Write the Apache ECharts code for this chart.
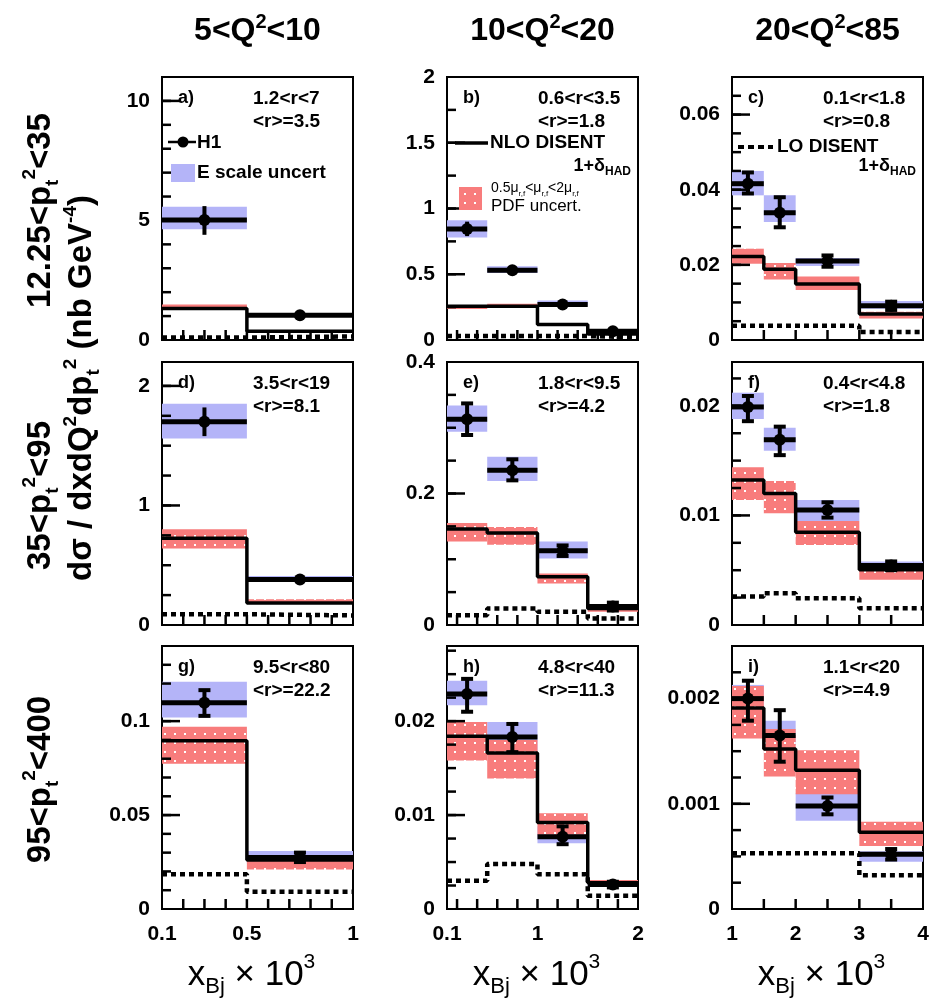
<!DOCTYPE html>
<html>
<head>
<meta charset="utf-8">
<script src="https://cdn.jsdelivr.net/npm/echarts@6/dist/echarts.min.js"></script>
<style>
html,body{margin:0;padding:0;background:#fff}
#main{width:938px;height:1003px}
</style>
</head>
<body>
<div id="main"></div>
<script>
// bin edges in x_Bj * 10^3, one set per Q2 column
var binsQ1 = [0.1, 0.5, 1];
var binsQ2 = [0.1, 0.5, 1.0, 1.5, 2.0];
var binsQ3 = [1, 1.5, 2, 3, 4];

var xRangeQ1 = [0.1, 1], xRangeQ2 = [0.1, 2], xRangeQ3 = [1, 4];
var xLabelsQ1 = [0.1, 0.5, 1];
var xLabelsQ2 = [0.1, 1, 2];
var xLabelsQ3 = [1, 2, 3, 4];
var xTicksQ1 = [0.2, 0.3, 0.4, 0.5, 0.6, 0.7, 0.8, 0.9];
var xTicksQ2 = [0.2, 0.4, 0.6, 0.8, 1.0, 1.2, 1.4, 1.6, 1.8];
var xTicksQ3 = [1.5, 2, 2.5, 3, 3.5];

// y axes per panel a..i
var yMax = [11, 2, 0.07, 2.2, 0.4, 0.024, 0.14, 0.028, 0.0025];
var yMinorStep = [1, 0.25, 0.005, 0.25, 0.05, 0.0025, 0.01, 0.0025, 0.00025];
var yLabelsA = [0, 5, 10];
var yLabelsB = [0, 0.5, 1, 1.5, 2];
var yLabelsC = [0, 0.02, 0.04, 0.06];
var yLabelsD = [0, 1, 2];
var yLabelsE = [0, 0.2, 0.4];
var yLabelsF = [0, 0.01, 0.02];
var yLabelsG = [0, 0.05, 0.1];
var yLabelsH = [0, 0.01, 0.02];
var yLabelsI = [0, 0.001, 0.002];

// panel a) 5<Q2<10, 12.25<pt2<35
var h1A = [5.02, 1.04];
var h1ErrA = [[4.4, 5.6], [0.95, 1.12]];
var eScaleA = [[4.63, 5.57], [1.0, 1.1]];
var nloA = [1.32, 0.37];
var nloBandA = [[1.3, 1.48], [0.34, 0.4]];
var loA = [0.1, 0.15];

// panel b) 10<Q2<20, 12.25<pt2<35
var h1B = [0.845, 0.53, 0.27, 0.066];
var h1ErrB = [[0.79, 0.9], [0.51, 0.56], [0.25, 0.29], [0.05, 0.08]];
var eScaleB = [[0.78, 0.91], [0.51, 0.56], [0.26, 0.3], [0.05, 0.07]];
var nloB = [0.257, 0.257, 0.117, 0.045];
var nloBandB = [[0.235, 0.26], [0.255, 0.275], [0.11, 0.125], [0.04, 0.05]];
var loB = [0.03, 0.03, 0.03, 0.02];

// panel c) 20<Q2<85, 12.25<pt2<35
var h1C = [0.0416, 0.0339, 0.021, 0.0091];
var h1ErrC = [[0.039, 0.0446], [0.030, 0.038], [0.0195, 0.0225], [0.008, 0.0102]];
var eScaleC = [[0.0385, 0.045], [0.0314, 0.0385], [0.0197, 0.0218], [0.0083, 0.0104]];
var nloC = [0.0222, 0.0188, 0.0149, 0.0069];
var nloBandC = [[0.0203, 0.0243], [0.0161, 0.0205], [0.0133, 0.0169], [0.0057, 0.0075]];
var loC = [0.0038, 0.0038, 0.0038, 0.0021];

// panel d) 5<Q2<10, 35<pt2<95
var h1D = [1.70, 0.38];
var h1ErrD = [[1.58, 1.82], [0.35, 0.41]];
var eScaleD = [[1.56, 1.85], [0.36, 0.41]];
var nloD = [0.726, 0.185];
var nloBandD = [[0.64, 0.8], [0.18, 0.215]];
var loD = [0.09, 0.08];

// panel e) 10<Q2<20, 35<pt2<95
var h1E = [0.313, 0.2355, 0.113, 0.028];
var h1ErrE = [[0.289, 0.337], [0.22, 0.252], [0.105, 0.121], [0.022, 0.034]];
var eScaleE = [[0.294, 0.334], [0.219, 0.256], [0.101, 0.127], [0.024, 0.032]];
var nloE = [0.146, 0.14, 0.0734, 0.025];
var nloBandE = [[0.127, 0.155], [0.122, 0.149], [0.0633, 0.0785], [0.02, 0.027]];
var loE = [0.015, 0.025, 0.02, 0.01];

// panel f) 20<Q2<85, 35<pt2<95
var h1F = [0.0199, 0.0169, 0.0105, 0.00544];
var h1ErrF = [[0.0186, 0.0209], [0.0155, 0.0181], [0.0098, 0.0112], [0.005, 0.0058]];
var eScaleF = [[0.0188, 0.0212], [0.0159, 0.018], [0.0095, 0.0114], [0.0049, 0.0058]];
var nloF = [0.01324, 0.012, 0.00847, 0.00505];
var nloBandF = [[0.0114, 0.0144], [0.0102, 0.01315], [0.0073, 0.0095], [0.00413, 0.00566]];
var loF = [0.0026, 0.0029, 0.00245, 0.00153];

// panel g) 5<Q2<10, 95<pt2<400
var h1G = [0.1098, 0.0274];
var h1ErrG = [[0.1028, 0.1165], [0.025, 0.03]];
var eScaleG = [[0.102, 0.121], [0.0238, 0.0309]];
var nloG = [0.0895, 0.0261];
var nloBandG = [[0.0773, 0.097], [0.021, 0.026]];
var loG = [0.0185, 0.0092];

// panel h) 10<Q2<20, 95<pt2<400
var h1H = [0.0229, 0.0183, 0.0077, 0.0026];
var h1ErrH = [[0.021, 0.0245], [0.0167, 0.0197], [0.0069, 0.0088], [0.0023, 0.0029]];
var eScaleH = [[0.0217, 0.0243], [0.0168, 0.0199], [0.007, 0.0088], [0.0024, 0.0028]];
var nloH = [0.0184, 0.0166, 0.0092, 0.0028];
var nloBandH = [[0.0158, 0.0199], [0.0139, 0.018], [0.0079, 0.0102], [0.0027, 0.0031]];
var loH = [0.003, 0.0048, 0.0037, 0.0014];

// panel i) 20<Q2<85, 95<pt2<400
var h1I = [0.002, 0.00165, 0.00098, 0.00052];
var h1ErrI = [[0.00179, 0.00217], [0.0014, 0.00189], [0.0009, 0.00106], [0.00047, 0.00057]];
var eScaleI = [[0.00186, 0.00213], [0.00156, 0.00179], [0.00084, 0.0011], [0.00045, 0.00055]];
var nloI = [0.00191, 0.00152, 0.00132, 0.00073];
var nloBandI = [[0.00162, 0.00212], [0.00126, 0.00171], [0.00109, 0.00151], [0.0006, 0.00083]];
var loI = [0.00053, 0.00053, 0.00053, 0.00032];

var rText = [
  ['1.2<r<7', '<r>=3.5'], ['0.6<r<3.5', '<r>=1.8'], ['0.1<r<1.8', '<r>=0.8'],
  ['3.5<r<19', '<r>=8.1'], ['1.8<r<9.5', '<r>=4.2'], ['0.4<r<4.8', '<r>=1.8'],
  ['9.5<r<80', '<r>=22.2'], ['4.8<r<40', '<r>=11.3'], ['1.1<r<20', '<r>=4.9']
];

var colBins = [binsQ1, binsQ2, binsQ3];
var colRange = [xRangeQ1, xRangeQ2, xRangeQ3];
var colLabels = [xLabelsQ1, xLabelsQ2, xLabelsQ3];
var colTicks = [xTicksQ1, xTicksQ2, xTicksQ3];

var panels = [
  {id: 'a', h1: h1A, err: h1ErrA, es: eScaleA, nlo: nloA, band: nloBandA, lo: loA, yl: yLabelsA, caps: false},
  {id: 'b', h1: h1B, err: h1ErrB, es: eScaleB, nlo: nloB, band: nloBandB, lo: loB, yl: yLabelsB, caps: false},
  {id: 'c', h1: h1C, err: h1ErrC, es: eScaleC, nlo: nloC, band: nloBandC, lo: loC, yl: yLabelsC, caps: true},
  {id: 'd', h1: h1D, err: h1ErrD, es: eScaleD, nlo: nloD, band: nloBandD, lo: loD, yl: yLabelsD, caps: false},
  {id: 'e', h1: h1E, err: h1ErrE, es: eScaleE, nlo: nloE, band: nloBandE, lo: loE, yl: yLabelsE, caps: true},
  {id: 'f', h1: h1F, err: h1ErrF, es: eScaleF, nlo: nloF, band: nloBandF, lo: loF, yl: yLabelsF, caps: true},
  {id: 'g', h1: h1G, err: h1ErrG, es: eScaleG, nlo: nloG, band: nloBandG, lo: loG, yl: yLabelsG, caps: true},
  {id: 'h', h1: h1H, err: h1ErrH, es: eScaleH, nlo: nloH, band: nloBandH, lo: loH, yl: yLabelsH, caps: true},
  {id: 'i', h1: h1I, err: h1ErrI, es: eScaleI, nlo: nloI, band: nloBandI, lo: loI, yl: yLabelsI, caps: true}
];

// layout
var COL_LEFT = [162, 447, 732];
var ROW_TOP = [77, 362, 646];
var PW = 191, PH = 263;
var FONT = 'Liberation Sans, Arial, Helvetica, sans-serif';
var BLUE = '#b4b4f8';
var RED = '#f87c7c';

// red band with little white dots (scale / PDF uncertainty)
var dots = document.createElement('canvas');
dots.width = 10; dots.height = 9;
var dctx = dots.getContext('2d');
dctx.fillStyle = RED;
dctx.fillRect(0, 0, 10, 9);
dctx.fillStyle = '#ffffff';
dctx.fillRect(4, 4, 2, 2);
var RED_FILL = {image: dots, repeat: 'repeat'};

function fmt(v) { return String(+v.toFixed(6)); }

function minorTicks(max, step) {
  var out = [];
  for (var k = 1; k * step < max - step * 0.01; k++) out.push(+(k * step).toFixed(8));
  return out;
}

function bandItem(bins, band) {
  return band.map(function (b, j) { return [bins[j], bins[j + 1], b[0], b[1]]; });
}

function stepData(bins, vals) {
  var d = vals.map(function (v, j) { return [bins[j], v]; });
  d.push([bins[bins.length - 1], vals[vals.length - 1]]);
  return d;
}

function renderBand(fill) {
  return function (params, api) {
    var p0 = api.coord([api.value(0), api.value(3)]);
    var p1 = api.coord([api.value(1), api.value(2)]);
    return {
      type: 'rect',
      shape: {x: p0[0], y: p0[1], width: p1[0] - p0[0], height: p1[1] - p0[1]},
      style: {fill: fill}
    };
  };
}

// inside tick marks; offsets kept beside the data so only x/y go through the axes
function renderTicks(offsets) {
  return function (params, api) {
    var p = api.coord([api.value(0), api.value(1)]);
    var o = offsets[params.dataIndex];
    return {
      type: 'line',
      shape: {x1: p[0], y1: p[1], x2: p[0] + o[0], y2: p[1] + o[1]},
      style: {stroke: '#000', lineWidth: 2.5}
    };
  };
}

function renderH1(caps) {
  return function (params, api) {
    var x0 = api.value(0), x1 = api.value(1), v = api.value(2);
    var xm = (x0 + x1) / 2;
    var a = api.coord([x0, v]), b = api.coord([x1, v]);
    var c = api.coord([xm, v]);
    var lo = api.coord([xm, api.value(3)]), hi = api.coord([xm, api.value(4)]);
    var kids = [
      {type: 'line', shape: {x1: a[0], y1: a[1], x2: b[0], y2: b[1]}, style: {stroke: '#000', lineWidth: 5}},
      {type: 'line', shape: {x1: lo[0], y1: lo[1], x2: hi[0], y2: hi[1]}, style: {stroke: '#000', lineWidth: 4}},
      {type: 'circle', shape: {cx: c[0], cy: c[1], r: 6}, style: {fill: '#000'}}
    ];
    if (caps) {
      [lo, hi].forEach(function (p) {
        kids.push({type: 'line', shape: {x1: p[0] - 6, y1: p[1], x2: p[0] + 6, y2: p[1]}, style: {stroke: '#000', lineWidth: 4}});
      });
    }
    return {type: 'group', children: kids};
  };
}

var grids = [], xAxes = [], yAxes = [], series = [];

panels.forEach(function (p, i) {
  var row = Math.floor(i / 3), col = i % 3;
  var bins = colBins[col];
  var xMin = colRange[col][0];
  grids.push({left: COL_LEFT[col], top: ROW_TOP[row], width: PW, height: PH,
    show: true, borderColor: '#000', borderWidth: 2, backgroundColor: 'rgba(0,0,0,0)'});

  xAxes.push({
    gridIndex: i, type: 'value', min: xMin, max: colRange[col][1],
    axisLine: {show: true, onZero: false, lineStyle: {color: '#000', width: 2}},
    axisTick: {show: false},
    axisLabel: {show: row === 2, customValues: colLabels[col], formatter: fmt, margin: 15,
      color: '#000', fontSize: 21, fontWeight: 'bold', fontFamily: FONT},
    splitLine: {show: false}
  });
  yAxes.push({
    gridIndex: i, type: 'value', min: 0, max: yMax[i],
    axisLine: {show: true, onZero: false, lineStyle: {color: '#000', width: 2}},
    axisTick: {show: false},
    axisLabel: {customValues: p.yl, formatter: fmt, margin: 12,
      color: '#000', fontSize: 21, fontWeight: 'bold', fontFamily: FONT},
    splitLine: {show: false}
  });

  // tick marks, drawn inside the frame
  var tickPos = [], tickOff = [];
  minorTicks(yMax[i], yMinorStep[i]).forEach(function (v) { tickPos.push([xMin, v]); tickOff.push([9, 0]); });
  p.yl.forEach(function (v) {
    if (v > 0 && v < yMax[i]) { tickPos.push([xMin, v]); tickOff.push([18, 0]); }
  });
  colTicks[col].forEach(function (v) { tickPos.push([v, 0]); tickOff.push([0, -10]); });

  series.push({
    type: 'custom', xAxisIndex: i, yAxisIndex: i, z: 1,
    renderItem: renderBand(BLUE), encode: {x: [0, 1], y: [2, 3]},
    data: bandItem(bins, p.es)
  });
  series.push({
    type: 'custom', xAxisIndex: i, yAxisIndex: i, z: 2,
    renderItem: renderBand(RED_FILL), encode: {x: [0, 1], y: [2, 3]},
    data: bandItem(bins, p.band)
  });
  series.push({
    type: 'line', xAxisIndex: i, yAxisIndex: i, z: 3, step: 'end', symbol: 'none',
    lineStyle: {color: '#000', width: 3.5},
    data: stepData(bins, p.nlo)
  });
  series.push({
    type: 'line', xAxisIndex: i, yAxisIndex: i, z: 3, step: 'end', symbol: 'none',
    lineStyle: {color: '#000', width: 4.5, type: [5, 4]},
    data: stepData(bins, p.lo)
  });
  series.push({
    type: 'custom', xAxisIndex: i, yAxisIndex: i, z: 4,
    renderItem: renderH1(p.caps), encode: {x: [0, 1], y: [2, 3, 4]},
    data: p.h1.map(function (v, j) { return [bins[j], bins[j + 1], v, p.err[j][0], p.err[j][1]]; })
  });
  series.push({
    type: 'custom', xAxisIndex: i, yAxisIndex: i, z: 5, clip: false,
    renderItem: renderTicks(tickOff), encode: {x: 0, y: 1},
    data: tickPos
  });
});

// text helpers
function rs(size, weight, va) {
  return {fontSize: size, fontFamily: FONT, fontWeight: weight || 'bold', verticalAlign: va, fill: '#000'};
}
function txt(x, y, text, size, opts) {
  opts = opts || {};
  return {
    type: 'text', x: x, y: y, rotation: opts.rot || 0, z: 100,
    style: {
      text: text, fill: '#000', fontSize: size, fontFamily: FONT, fontWeight: opts.w || 'bold',
      align: opts.align || 'left', verticalAlign: 'middle', lineHeight: opts.lh,
      rich: opts.rich
    }
  };
}

var graphics = [];
var qTitles = ['5<Q{s|2}<10', '10<Q{s|2}<20', '20<Q{s|2}<85'];
var titleRich = {s: rs(20, 'bold', 'top')};
qTitles.forEach(function (t, c) {
  graphics.push(txt(COL_LEFT[c] + PW / 2, 31, t, 32, {align: 'center', lh: 38, rich: titleRich}));
  graphics.push(txt(COL_LEFT[c] + PW / 2 - 6, 975, 'x{b|Bj} × 10{s|3}', 35,
    {align: 'center', lh: 46, w: 'normal', rich: {b: rs(22, 'normal', 'bottom'), s: rs(21, 'normal', 'top')}}));
});

var ptTitles = ['12.25<p{b|t}{s|2}<35', '35<p{b|t}{s|2}<95', '95<p{b|t}{s|2}<400'];
var ptRich = {b: rs(19, 'bold', 'bottom'), s: rs(19, 'bold', 'top')};
ptTitles.forEach(function (t, r) {
  graphics.push(txt(41, ROW_TOP[r] + PH / 2 + 2, t, 33, {align: 'center', rot: Math.PI / 2, lh: 42, rich: ptRich}));
});
graphics.push(txt(82, 388, 'dσ / dxdQ{s|2}dp{b|t}{s|2} (nb GeV{s|-4})', 33,
  {align: 'center', rot: Math.PI / 2, lh: 42, rich: ptRich}));

panels.forEach(function (p, i) {
  var row = Math.floor(i / 3), col = i % 3;
  var L = COL_LEFT[col], T = ROW_TOP[row];
  graphics.push(txt(L + 16, T + 21, p.id + ')', 18));
  graphics.push(txt(L + 91, T + 22, rText[i][0], 19));
  graphics.push(txt(L + 91, T + 45, rText[i][1], 19));
});

// legend keys
var subRich = {b: rs(12, 'bold', 'bottom')};
graphics.push({type: 'line', shape: {x1: 168, y1: 142, x2: 196, y2: 142}, style: {stroke: '#000', lineWidth: 2.5}, z: 100});
graphics.push({type: 'circle', shape: {cx: 183, cy: 142, r: 5.5}, style: {fill: '#000'}, z: 100});
graphics.push(txt(197, 143, 'H1', 19));
graphics.push({type: 'rect', shape: {x: 171, y: 164, width: 24, height: 18}, style: {fill: BLUE}, z: 100});
graphics.push(txt(197, 173, 'E scale uncert', 19));

graphics.push({type: 'line', shape: {x1: 455, y1: 143, x2: 488, y2: 143}, style: {stroke: '#000', lineWidth: 3.5}, z: 100});
graphics.push(txt(490, 143, 'NLO DISENT', 19));
graphics.push(txt(631, 166, '1+δ{b|HAD}', 18, {align: 'right', lh: 24, rich: subRich}));
graphics.push({type: 'rect', shape: {x: 459, y: 187, width: 23, height: 23}, style: {fill: RED_FILL}, z: 100});
graphics.push(txt(491, 188, '0.5μ{b|r,f}<μ{b|r,f}<2μ{b|r,f}', 14, {w: 'normal', lh: 20, rich: {b: rs(8, 'normal', 'bottom')}}));
graphics.push(txt(491, 206, 'PDF uncert.', 17, {w: 'normal'}));

graphics.push({type: 'line', shape: {x1: 738, y1: 147, x2: 773, y2: 147}, style: {stroke: '#000', lineWidth: 4, lineDash: [6, 4]}, z: 100});
graphics.push(txt(777, 147, 'LO DISENT', 19));
graphics.push(txt(916, 166, '1+δ{b|HAD}', 18, {align: 'right', lh: 24, rich: subRich}));

var chart = echarts.init(document.getElementById('main'), null, {renderer: 'canvas'});
chart.setOption({
  animation: false,
  backgroundColor: '#fff',
  grid: grids,
  xAxis: xAxes,
  yAxis: yAxes,
  series: series,
  graphic: graphics
});
</script>
</body>
</html>
